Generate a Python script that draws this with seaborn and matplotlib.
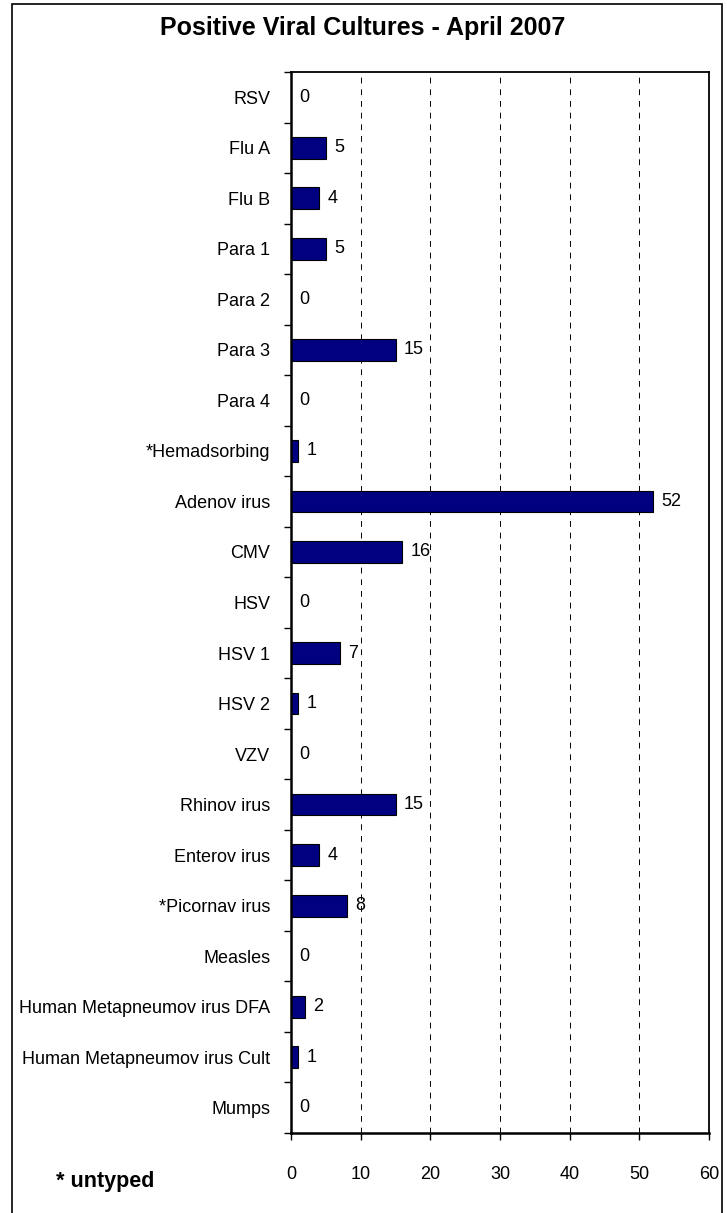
import matplotlib
matplotlib.use("Agg")
import matplotlib.pyplot as plt
import seaborn as sns
import pandas as pd
from matplotlib.patches import Rectangle

categories = ["RSV", "Flu A", "Flu B", "Para 1", "Para 2", "Para 3", "Para 4",
              "*Hemadsorbing", "Adenov irus", "CMV", "HSV", "HSV 1", "HSV 2", "VZV",
              "Rhinov irus", "Enterov irus", "*Picornav irus", "Measles",
              "Human Metapneumov irus DFA", "Human Metapneumov irus Cult", "Mumps"]
values = [0, 5, 4, 5, 0, 15, 0, 1, 52, 16, 0, 7, 1, 0, 15, 4, 8, 0, 2, 1, 0]
x_ticks = [0, 10, 20, 30, 40, 50, 60]
title = "Positive Viral Cultures - April 2007"
footnote = "* untyped"

sns.set_theme(style="white")
plt.rcParams["font.family"] = ["Liberation Sans", "DejaVu Sans"]
plt.rcParams["text.color"] = "black"

df = pd.DataFrame({"virus": categories, "count": values})

W, H = 727, 1213
fig = plt.figure(figsize=(W / 100, H / 100), dpi=100)
ax = fig.add_axes([291 / W, 1 - 1133 / H, (709 - 291) / W, (1133 - 72) / H])

sns.barplot(data=df, y="virus", x="count", orient="h", color="#000080",
            edgecolor="black", linewidth=0.8, width=0.43, saturation=1, ax=ax)

for c in ax.containers:
    ax.bar_label(c, labels=[str(v) for v in values], padding=6, fontsize=13, color="black")

ax.set_xlim(0, 60)
ax.set_ylim(len(categories) - 0.5, -0.5)
ax.set_xticks(x_ticks)
ax.set_xticklabels([str(t) for t in x_ticks], fontsize=13)
ax.set_xlabel("")
ax.set_ylabel("")
ax.tick_params(axis="y", which="major", length=0, pad=15, labelsize=13)
ax.set_yticks([i - 0.5 for i in range(len(categories) + 1)], minor=True)
ax.tick_params(axis="y", which="minor", length=5, width=1, color="black", direction="out", left=True)
ax.tick_params(axis="x", which="major", length=5, width=1, color="black", direction="out", pad=19, bottom=True)
for lab in ax.get_yticklabels():
    lab.set_color("black")
for lab in ax.get_xticklabels():
    lab.set_color("black")

ax.xaxis.grid(True, linestyle=(0, (6, 6)), color="black", linewidth=0.7)
ax.yaxis.grid(False)
ax.set_axisbelow(True)
for s in ax.spines.values():
    s.set_visible(True)
    s.set_color("black")
    s.set_linewidth(1.3)
ax.spines["left"].set_linewidth(1.8)
ax.spines["bottom"].set_linewidth(1.8)

fig.text(363 / W, 1 - 28 / H, title, ha="center", va="center", fontsize=18,
         fontweight="bold", color="black")
fig.text(105 / W, 1 - 1181 / H, footnote, ha="center", va="center", fontsize=15.5,
         fontweight="bold", color="black")

border = Rectangle((12 / W, -0.05), (722 - 12) / W, 1.05 - 4 / H, transform=fig.transFigure,
                   fill=False, edgecolor="black", linewidth=1.2)
fig.patches.append(border)

fig.savefig("out.png", dpi=100)
